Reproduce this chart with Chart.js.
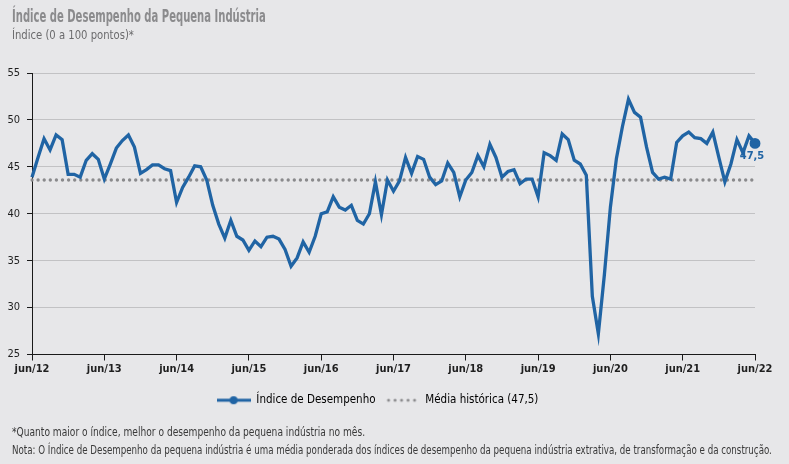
<!DOCTYPE html>
<html>
<head>
<meta charset="utf-8">
<script src="https://cdn.jsdelivr.net/npm/chart.js@4/dist/chart.umd.min.js"></script>
<style>
  html, body { margin: 0; padding: 0; background: #e7e7e9; }
  body { width: 789px; height: 464px; position: relative; overflow: hidden;
         font-family: 'DejaVu Sans Condensed', 'DejaVu Sans', sans-serif; }
  .txt { position: absolute; left: 12px; white-space: nowrap; transform-origin: 0 0; }
  #title { top: 5px; font-size: 18px; font-weight: bold; color: #8b8b8d; transform: scaleX(0.62); }
  #subtitle { top: 27px; font-size: 13px; color: #6b6b6d; transform: scaleX(0.86); }
  .note { font-size: 12px; color: #3a3a3a; transform: scaleX(0.843); }
  .note.long { transform: scaleX(0.805); }
  #chart { position: absolute; left: 0; top: 0; }
</style>
</head>
<body>
<canvas id="chart" width="789" height="464"></canvas>
<div id="title" class="txt">Índice de Desempenho da Pequena Indústria</div>
<div id="subtitle" class="txt">Índice (0 a 100 pontos)*</div>
<div class="txt note" style="top:425px">*Quanto maior o índice, melhor o desempenho da pequena indústria no mês.</div>
<div class="txt note long" style="top:443px">Nota: O Índice de Desempenho da pequena indústria é uma média ponderada dos índices de desempenho da pequena indústria extrativa, de transformação e da construção.</div>
<script>
/** Months from jun/12 to jun/22 */
const monthNames = ['jun', 'jul', 'ago', 'set', 'out', 'nov', 'dez', 'jan', 'fev', 'mar', 'abr', 'mai'];
const monthLabels = [];
for (let i = 0; i <= 120; i++) {
  const year = 12 + Math.floor((i + 5) / 12);
  monthLabels.push(monthNames[i % 12] + '/' + year);
}

/** Índice de Desempenho, monthly */
const indexValues = [
  43.9, 46.0, 48.0, 46.8, 48.4, 47.9, 44.2, 44.2, 43.9, 45.7, 46.4, 45.8,
  43.7, 45.3, 47.0, 47.8, 48.4, 47.1, 44.3, 44.7, 45.2, 45.2, 44.8, 44.6,
  41.2, 42.8, 43.9, 45.1, 45.0, 43.6, 40.9, 38.9, 37.4, 39.3, 37.6, 37.2,
  36.1, 37.1, 36.5, 37.5, 37.6, 37.3, 36.2, 34.4, 35.3, 37.0, 35.9, 37.6,
  40.0, 40.2, 41.8, 40.7, 40.4, 40.9, 39.3, 38.9, 40.0, 43.4, 39.9, 43.6,
  42.4, 43.5, 46.0, 44.3, 46.1, 45.8, 43.9, 43.1, 43.5, 45.4, 44.4, 41.8,
  43.6, 44.4, 46.2, 45.0, 47.4, 46.0, 43.9, 44.5, 44.7, 43.2, 43.7, 43.7,
  41.8, 46.5, 46.2, 45.7, 48.5, 47.9, 45.7, 45.3, 44.1, 31.2, 27.2, 33.5,
  40.7, 45.9, 49.3, 52.2, 50.8, 50.3, 47.1, 44.4, 43.7, 43.9, 43.7, 47.6,
  48.3, 48.7, 48.1, 48.0, 47.5, 48.7, 46.0, 43.4, 45.3, 47.9, 46.5, 48.3,
  47.5
];

/** Média histórica (drawn level) */
const historicMean = 43.6;
const yTicks = [25, 30, 35, 40, 45, 50, 55];

const blue = '#2064a4';
const grayDot = '#8a8a8c';
const fontFamily = "'DejaVu Sans Condensed', 'DejaVu Sans', sans-serif";

/** Legend marker images */
const makeMarker = (drawFn) => {
  const c = document.createElement('canvas');
  c.width = 34;
  c.height = 10;
  drawFn(c.getContext('2d'));
  return c;
};
const lineMarker = makeMarker(ctx => {
  ctx.strokeStyle = blue;
  ctx.lineWidth = 3;
  ctx.beginPath();
  ctx.moveTo(0, 5);
  ctx.lineTo(34, 5);
  ctx.stroke();
  ctx.fillStyle = blue;
  ctx.beginPath();
  ctx.arc(17, 5, 4, 0, Math.PI * 2);
  ctx.fill();
});
const dotMarker = makeMarker(ctx => {
  ctx.fillStyle = grayDot;
  for (let x = 3; x < 34; x += 6.5) {
    ctx.beginPath();
    ctx.arc(x, 5, 1.5, 0, Math.PI * 2);
    ctx.fill();
  }
});

/** Value label beside the last point */
const lastValueLabel = {
  id: 'lastValueLabel',
  afterDatasetsDraw(chart) {
    const meta = chart.getDatasetMeta(0);
    const pt = meta.data[meta.data.length - 1];
    const ctx = chart.ctx;
    ctx.save();
    ctx.fillStyle = blue;
    ctx.font = 'bold 11px ' + fontFamily;
    ctx.textAlign = 'center';
    ctx.textBaseline = 'top';
    ctx.fillText(indexValues[indexValues.length - 1].toFixed(1).replace('.', ','), pt.x - 3, pt.y + 7);
    ctx.restore();
  }
};

new Chart(document.getElementById('chart'), {
  type: 'line',
  data: {
    labels: monthLabels,
    datasets: [{
      label: 'Índice de Desempenho',
      data: indexValues,
      borderColor: blue,
      backgroundColor: blue,
      borderWidth: 3.3,
      tension: 0,
      pointRadius: indexValues.map((v, i) => i === indexValues.length - 1 ? 3.8 : 0),
      pointHoverRadius: 0,
    }, {
      label: 'Média histórica (47,5)',
      data: monthLabels.map(() => historicMean),
      borderColor: grayDot,
      borderWidth: 3.4,
      borderDash: [0, 6.1],
      borderCapStyle: 'round',
      pointRadius: 0,
    }]
  },
  options: {
    responsive: false,
    animation: false,
    devicePixelRatio: 1,
    layout: {
      padding: {left: 0, right: 34, top: 73, bottom: 48}
    },
    scales: {
      x: {
        offset: false,
        border: {color: '#1a1a1a', width: 1},
        grid: {
          drawOnChartArea: false,
          tickLength: 6,
          tickColor: (ctx) => ctx.index % 12 === 0 ? '#1a1a1a' : 'rgba(0,0,0,0)',
        },
        ticks: {
          autoSkip: false,
          maxRotation: 0,
          padding: 2,
          color: '#1f1f1f',
          font: {family: fontFamily, size: 11, weight: 'bold'},
          callback: (value, index) => index % 12 === 0 ? monthLabels[index] : '',
        },
        afterFit: (scale) => { scale.height = 30; },
      },
      y: {
        min: 25,
        max: 55,
        border: {color: '#1a1a1a', width: 1},
        grid: {
          color: '#c2c2c4',
          lineWidth: 1,
          tickLength: 5,
          tickColor: '#1a1a1a',
        },
        afterBuildTicks: (scale) => { scale.ticks = yTicks.map(v => ({value: v})); },
        ticks: {
          padding: 7,
          color: '#1f1f1f',
          font: {family: fontFamily, size: 11},
        },
        afterFit: (scale) => { scale.width = 32; },
      }
    },
    plugins: {
      legend: {
        position: 'bottom',
        labels: {
          usePointStyle: true,
          pointStyleWidth: 34,
          boxHeight: 10,
          padding: 10,
          color: '#333',
          font: {family: fontFamily, size: 11.5},
          generateLabels: (chart) => chart.data.datasets.map((ds, i) => ({
            text: ds.label,
            pointStyle: i === 0 ? lineMarker : dotMarker,
            fillStyle: 'transparent',
            strokeStyle: 'transparent',
            lineWidth: 0,
            datasetIndex: i,
          })),
        }
      },
      tooltip: {enabled: false},
    }
  },
  plugins: [lastValueLabel],
});
</script>
</body>
</html>
